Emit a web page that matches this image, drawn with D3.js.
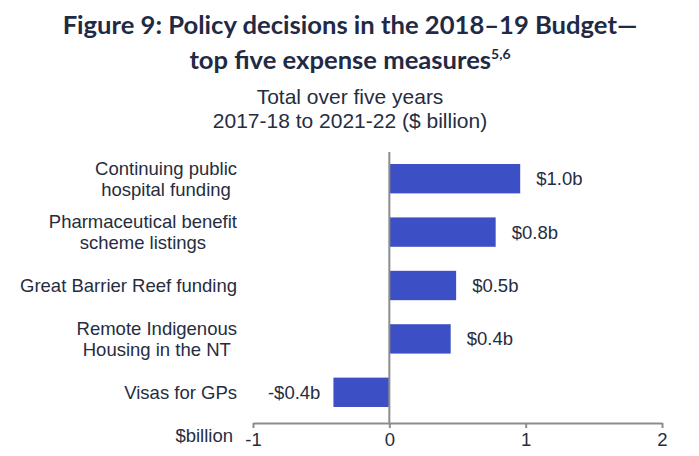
<!DOCTYPE html>
<html>
<head>
<meta charset="utf-8">
<script src="https://cdn.jsdelivr.net/npm/d3@7"></script>
<style>
  body { margin: 0; background: #fff; }
  svg { display: block; }
</style>
</head>
<body>
<svg id="chart" width="699" height="456"></svg>
<script>
// Chart data
const categories = [
  ["Continuing public", "hospital funding"],
  ["Pharmaceutical benefit", "scheme listings"],
  ["Great Barrier Reef funding"],
  ["Remote Indigenous", "Housing in the NT"],
  ["Visas for GPs"]
];
const values = [0.96, 0.78, 0.49, 0.45, -0.41];
const valueLabels = ["$1.0b", "$0.8b", "$0.5b", "$0.4b", "-$0.4b"];
const xTicks = [-1, 0, 1, 2];

const svg = d3.select("#chart");
const textColor = "#262d40";
const axisColor = "#8c8c8c";
const barColor = "#3d4fc4";
const font = "'Liberation Sans', Arial, sans-serif";
const fs = 18.5;

// Title
const title = svg.append("text")
  .attr("x", 350)
  .attr("text-anchor", "middle")
  .attr("font-family", "Lato, 'Open Sans', sans-serif")
  .attr("font-weight", "bold")
  .attr("font-size", 25.6)
  .attr("fill", "#1f2a44");
title.append("tspan").attr("x", 350).attr("y", 34)
  .text("Figure 9: Policy decisions in the 2018\u201319 Budget\u2014");
const line2 = title.append("tspan").attr("x", 350).attr("y", 69);
line2.append("tspan").text("top five expense measures");
line2.append("tspan").attr("dy", -10).attr("font-size", 14).text("5,6");

// Subtitle
const sub = svg.append("text")
  .attr("text-anchor", "middle")
  .attr("font-family", font)
  .attr("font-size", 21)
  .attr("fill", textColor);
sub.append("tspan").attr("x", 350).attr("y", 104).text("Total over five years");
sub.append("tspan").attr("x", 350).attr("y", 128).text("2017-18 to 2021-22 ($ billion)");

// Scales
const x = d3.scaleLinear().domain([-1, 2]).range([253, 662]);
const y = d3.scaleBand()
  .domain(d3.range(categories.length))
  .range([152, 419])
  .paddingInner(0.45)
  .paddingOuter(0.225);

// Bars
svg.selectAll(".bar")
  .data(values)
  .enter()
  .append("rect")
  .attr("class", "bar")
  .attr("x", (d) => x(Math.min(0, d)))
  .attr("width", (d) => Math.abs(x(d) - x(0)))
  .attr("y", (d, i) => y(i))
  .attr("height", y.bandwidth())
  .attr("fill", barColor);

// Value labels
svg.selectAll(".vlabel")
  .data(values)
  .enter()
  .append("text")
  .attr("class", "vlabel")
  .attr("x", (d) => (d >= 0 ? x(d) + 16 : x(d) - 13))
  .attr("y", (d, i) => y(i) + y.bandwidth() / 2)
  .attr("dy", "0.35em")
  .attr("text-anchor", (d) => (d >= 0 ? "start" : "end"))
  .attr("font-family", font)
  .attr("font-size", fs)
  .attr("fill", textColor)
  .text((d, i) => valueLabels[i]);

// Category labels: centred lines, block right-aligned
const labelRight = 237;
const lineH = 21;
categories.forEach((lines, i) => {
  const g = svg.append("text")
    .attr("text-anchor", "middle")
    .attr("font-family", font)
    .attr("font-size", fs)
    .attr("fill", textColor);
  const cy = y(i) + y.bandwidth() / 2;
  const spans = lines.map((l, j) =>
    g.append("tspan")
      .attr("y", cy + (j - (lines.length - 1) / 2) * lineH)
      .attr("dy", "0.35em")
      .text(l)
  );
  const maxW = d3.max(spans, (s) => s.node().getComputedTextLength());
  spans.forEach((s) => s.attr("x", labelRight - maxW / 2));
});

// Zero line
svg.append("line")
  .attr("x1", x(0)).attr("x2", x(0))
  .attr("y1", 152).attr("y2", 423)
  .attr("stroke", axisColor)
  .attr("stroke-width", 2);

// X axis
const axis = svg.append("g")
  .attr("transform", "translate(0,423)")
  .call(d3.axisBottom(x).tickValues(xTicks).tickSize(5).tickSizeOuter(0).tickFormat((d) => String(d)));
axis.select(".domain").attr("stroke", axisColor).attr("stroke-width", 2);
axis.selectAll(".tick line").attr("stroke", axisColor).attr("stroke-width", 2);
axis.selectAll(".tick text")
  .attr("font-family", font)
  .attr("font-size", fs)
  .attr("fill", textColor)
  .attr("y", 10);

svg.append("text")
  .attr("x", 233)
  .attr("y", 442)
  .attr("text-anchor", "end")
  .attr("font-family", font)
  .attr("font-size", fs)
  .attr("fill", textColor)
  .text("$billion");
</script>
</body>
</html>
